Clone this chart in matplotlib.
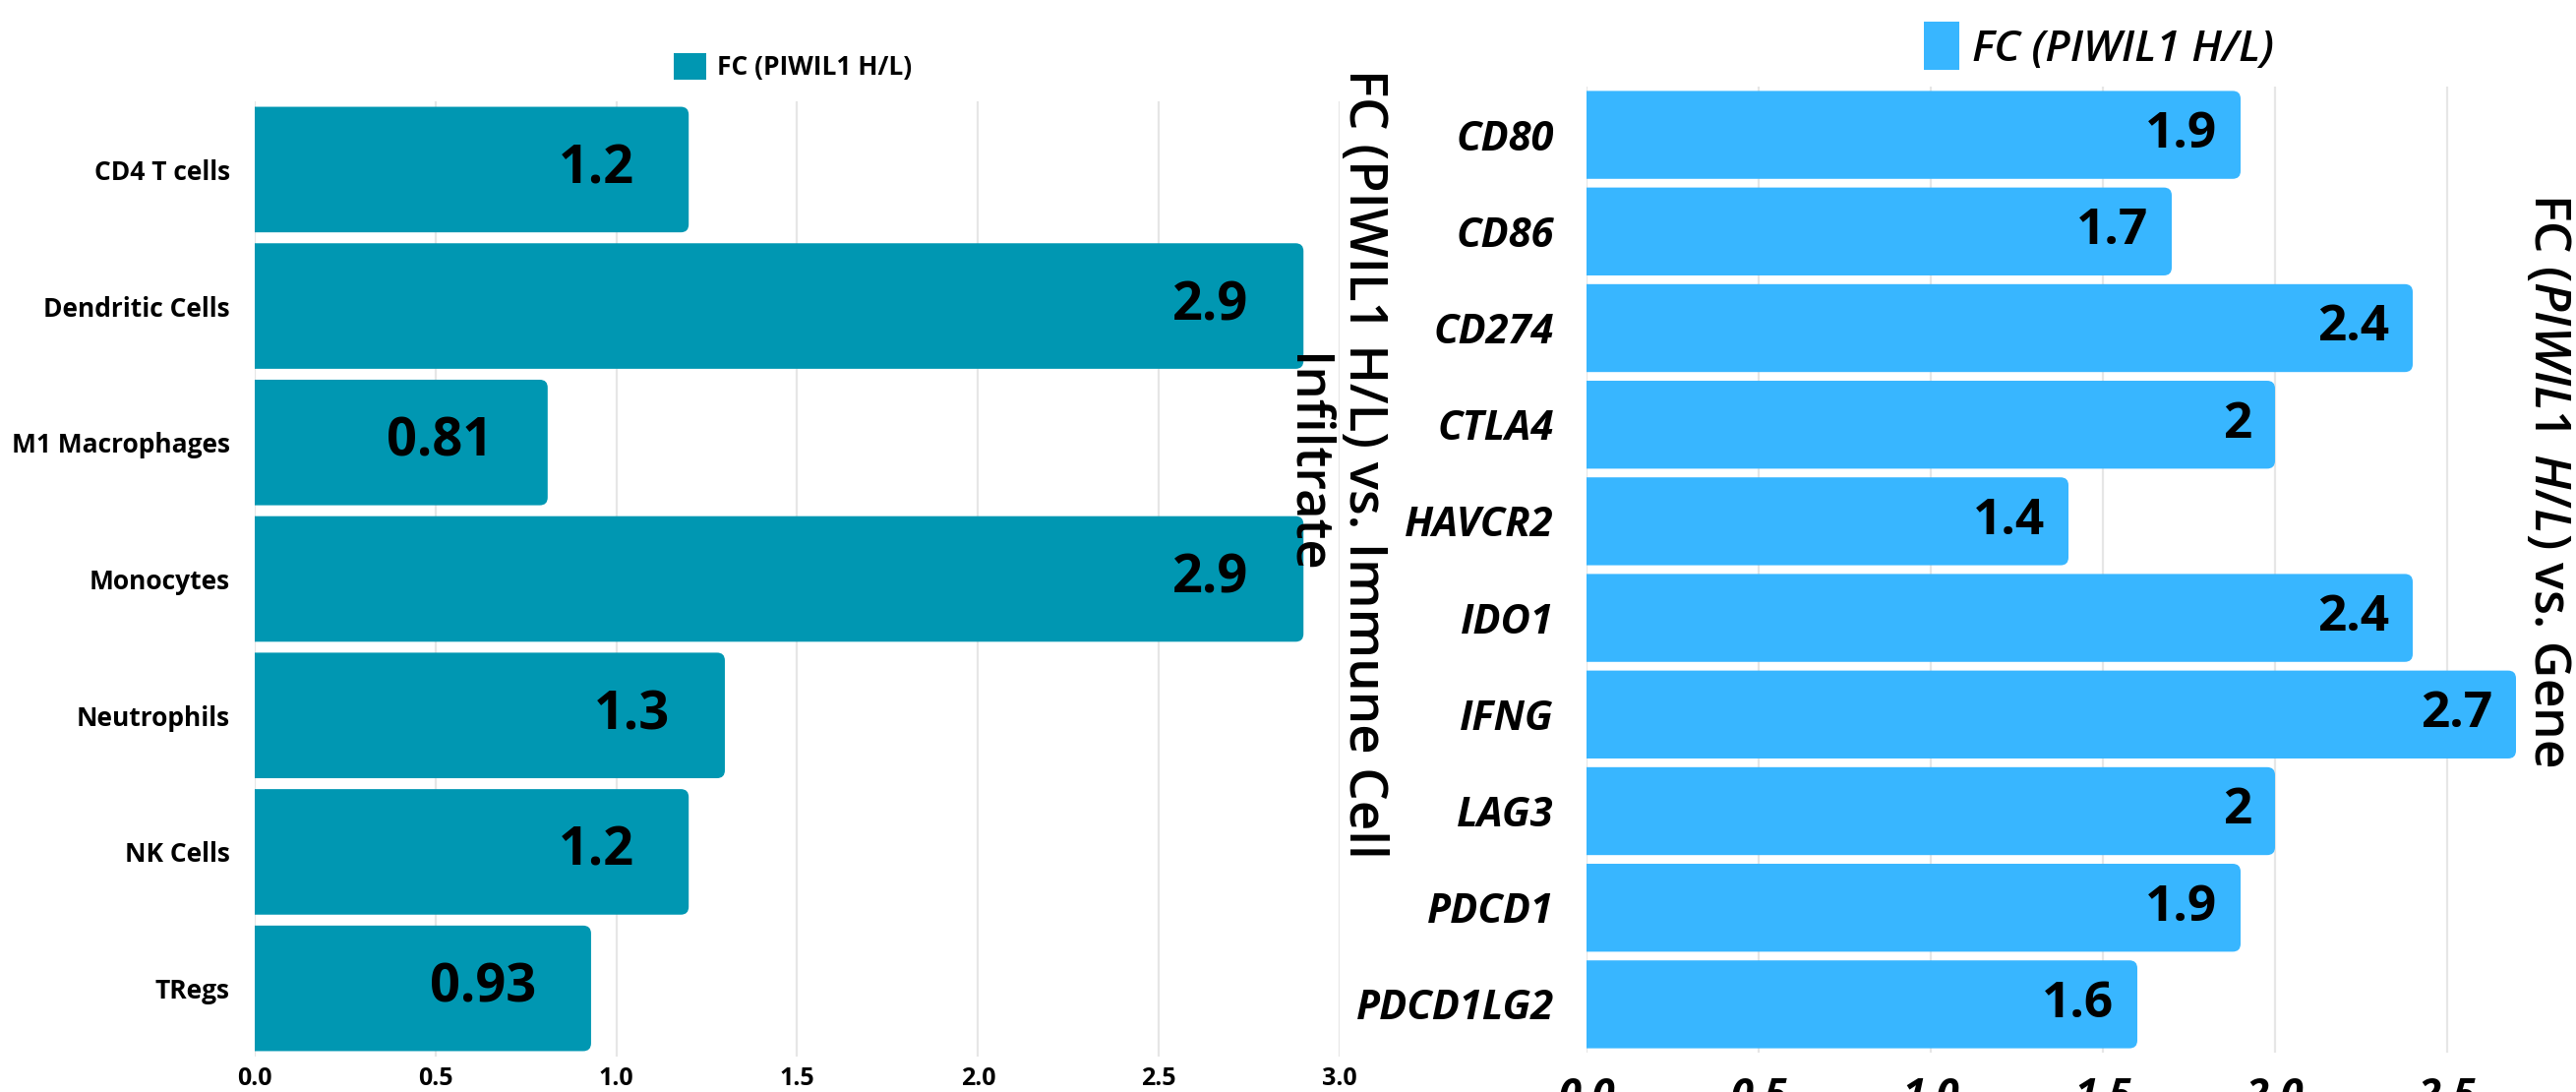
import matplotlib
matplotlib.use("Agg")
import matplotlib.pyplot as plt
from matplotlib.patches import FancyBboxPatch, Patch

# immune cell infiltrate fold changes
cells = ["CD4 T cells", "Dendritic Cells", "M1 Macrophages", "Monocytes",
         "Neutrophils", "NK Cells", "TRegs"]
cell_fc = [1.2, 2.9, 0.81, 2.9, 1.3, 1.2, 0.93]
cell_fc_labels = ["1.2", "2.9", "0.81", "2.9", "1.3", "1.2", "0.93"]

# checkpoint gene fold changes
genes = ["CD80", "CD86", "CD274", "CTLA4", "HAVCR2", "IDO1", "IFNG",
         "LAG3", "PDCD1", "PDCD1LG2"]
gene_fc = [1.9, 1.7, 2.4, 2.0, 1.4, 2.4, 2.7, 2.0, 1.9, 1.6]
gene_fc_labels = ["1.9", "1.7", "2.4", "2", "1.4", "2.4", "2.7", "2", "1.9", "1.6"]

x_ticks = [0.0, 0.5, 1.0, 1.5, 2.0, 2.5, 3.0]

TEAL = "#0097b2"
SKY = "#38b6ff"
GRID = "#e6e6e6"
FONT = "Open Sans"

plt.rcParams["font.family"] = [FONT, "DejaVu Sans"]
plt.rcParams["mathtext.fontset"] = "custom"
plt.rcParams["mathtext.rm"] = FONT + ":semibold"
plt.rcParams["mathtext.it"] = FONT + ":italic:semibold"

W, H = 2619, 1110
fig = plt.figure(figsize=(W / 100, H / 100), dpi=100)


def rounded_bars(ax, bars, color, radius_px=8):
    # swap plain rectangles for ones with rounded right-hand corners
    fig.canvas.draw()
    bb = ax.get_window_extent()
    x0, x1 = ax.get_xlim()
    y0, y1 = ax.get_ylim()
    px_x = bb.width / (x1 - x0)
    px_y = bb.height / abs(y1 - y0)
    r = radius_px / px_x
    for rect in bars:
        x, y = rect.get_x(), rect.get_y()
        w, h = rect.get_width(), rect.get_height()
        rect.set_visible(False)
        ax.add_patch(FancyBboxPatch(
            (x - r, y), w + r, h,
            boxstyle=f"round,pad=0,rounding_size={r}",
            mutation_aspect=px_x / px_y,
            facecolor=color, edgecolor="none", zorder=2))


def style_axes(ax):
    ax.set_xlim(0, 3)
    ax.set_xticks(x_ticks)
    ax.set_xticklabels([f"{t:.1f}" for t in x_ticks])
    for s in ax.spines.values():
        s.set_visible(False)
    ax.set_axisbelow(True)
    ax.xaxis.grid(True, color=GRID, linewidth=1.6)
    ax.yaxis.grid(False)
    ax.tick_params(length=0)


# left panel: immune cells
ax1 = fig.add_axes([259 / W, 1 - 1074 / H, 1103 / W, 971 / H])
ypos1 = list(range(len(cells)))
bars1 = ax1.barh(ypos1, cell_fc, height=0.92, color=TEAL)
ax1.set_ylim(len(cells) - 0.5, -0.5)
ax1.set_yticks(ypos1)
ax1.set_yticklabels(cells, fontsize=19, fontweight="bold")
style_axes(ax1)
ax1.tick_params(axis="y", pad=18)
ax1.tick_params(axis="x", pad=7, labelsize=18)
for lab in ax1.get_xticklabels():
    lab.set_fontweight("bold")
for y, v, txt in zip(ypos1, cell_fc, cell_fc_labels):
    ax1.annotate(txt, (v, y), xytext=(-40, 0), textcoords="offset points",
                 ha="right", va="center", fontsize=39, fontweight="bold",
                 color="black")

# right panel: genes
ax2 = fig.add_axes([1613 / W, 1 - 1070 / H, 1050 / W, 982 / H])
ypos2 = list(range(len(genes)))
bars2 = ax2.barh(ypos2, gene_fc, height=0.91, color=SKY)
ax2.set_ylim(len(genes) - 0.5, -0.5)
ax2.set_yticks(ypos2)
ax2.set_yticklabels(genes, fontsize=30, fontweight="bold", fontstyle="italic")
style_axes(ax2)
ax2.tick_params(axis="y", pad=24)
ax2.tick_params(axis="x", pad=18, labelsize=30)
for lab in ax2.get_xticklabels():
    lab.set_fontweight("bold")
    lab.set_fontstyle("italic")
for y, v, txt in zip(ypos2, gene_fc, gene_fc_labels):
    ax2.annotate(txt, (v, y), xytext=(-17, 0), textcoords="offset points",
                 ha="right", va="center", fontsize=37, fontweight="bold",
                 color="black")

rounded_bars(ax1, bars1, TEAL)
rounded_bars(ax2, bars2, SKY)

# legends
fig.legend(handles=[Patch(facecolor=TEAL, label="FC (PIWIL1 H/L)")],
           loc="center", bbox_to_anchor=(806 / W, 1 - 68 / H), frameon=False,
           prop={"family": FONT, "weight": "bold", "size": 19},
           handlelength=1.25, handleheight=1.25, handletextpad=0.4,
           borderpad=0)
fig.legend(handles=[Patch(facecolor=SKY, label="FC (PIWIL1 H/L)")],
           loc="center", bbox_to_anchor=(2134 / W, 1 - 47 / H), frameon=False,
           prop={"family": FONT, "style": "italic", "weight": "semibold",
                 "size": 32},
           handlelength=0.8, handleheight=1.3, handletextpad=0.3,
           borderpad=0)

# rotated panel titles
fig.text(1356 / W, 1 - 471 / H, "FC (PIWIL1 H/L) vs. Immune Cell\nInfiltrate",
         rotation=270, ha="center", va="center", fontsize=38,
         fontweight="semibold", linespacing=1.15, multialignment="center")
fig.text(2590 / W, 1 - 488 / H, r"FC ($\mathit{PIWIL1\ H/L}$) vs. Gene",
         rotation=270, ha="center", va="center", fontsize=37,
         fontweight="semibold")

fig.savefig("out.png", dpi=100)
